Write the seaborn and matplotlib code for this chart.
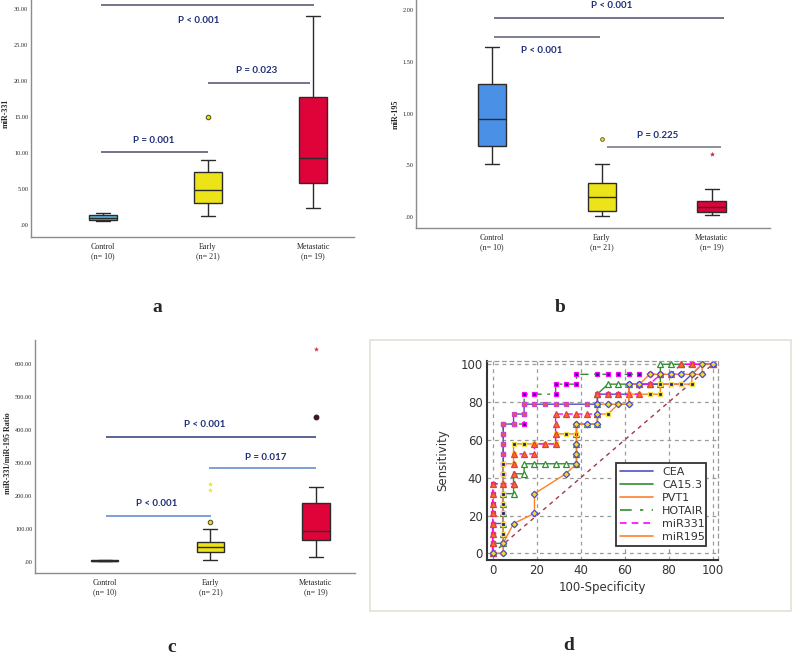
import numpy as np
import pandas as pd
import matplotlib
matplotlib.use("Agg")
import matplotlib.pyplot as plt
from matplotlib.ticker import FuncFormatter, MultipleLocator
from matplotlib.lines import Line2D
from matplotlib.patches import Rectangle
import seaborn as sns

# --- 1. Data ---

W, H = 793, 655

GROUPS = ["Control\n(n= 10)", "Early\n(n= 21)", "Metastatic\n(n= 19)"]

# five-number summaries per group: whisker low, Q1, median, Q3, whisker high
MIR331_CONTROL = [0.55, 0.65, 1.0, 1.45, 1.7]
MIR331_EARLY = [1.25, 3.1, 4.8, 7.3, 9.0]
MIR331_META = [2.4, 5.9, 9.25, 17.8, 29.0]
MIR331_EARLY_OUT = [15.0]

MIR195_CONTROL = [0.51, 0.69, 0.95, 1.285, 1.645]
MIR195_EARLY = [0.013, 0.061, 0.19, 0.331, 0.512]
MIR195_META = [0.02, 0.048, 0.097, 0.157, 0.273]
MIR195_EARLY_OUT = [0.75]
MIR195_META_STAR = [0.606]

RATIO_CONTROL = [2, 3, 4, 5, 6]
RATIO_EARLY = [7, 29, 45, 62, 100]
RATIO_META = [15, 68, 94, 178, 227]
RATIO_EARLY_OUT = [120]
RATIO_EARLY_STAR = [219, 238]
RATIO_META_OUT = [439]
RATIO_META_STAR = [646]

# ROC curves (100-specificity, sensitivity)
CEA_X = [0, 0, 0, 0, 4.8, 4.8, 4.8, 4.8, 4.8, 4.8, 4.8, 4.8, 4.8, 4.8, 4.8, 9.5, 9.5, 14.3, 14.3, 19.0, 23.8,
         28.6, 33.3, 42.9, 47.6, 47.6, 52.4, 57.1, 61.9, 61.9, 66.7, 71.4, 76.2, 85.7, 90.5, 95.2, 100]
CEA_Y = [0, 5.3, 10.5, 15.8, 15.8, 21.1, 26.3, 31.6, 36.8, 42.1, 47.4, 52.6, 57.9, 63.2, 68.4, 68.4, 73.7, 73.7,
         78.9, 78.9, 78.9, 78.9, 78.9, 78.9, 78.9, 84.2, 84.2, 84.2, 84.2, 89.5, 89.5, 89.5, 89.5, 89.5, 94.7, 100, 100]

CA153_X = [0, 0, 4.8, 4.8, 4.8, 4.8, 4.8, 4.8, 9.5, 9.5, 9.5, 14.3, 14.3, 19.0, 23.8, 28.6, 33.3, 38.1, 38.1,
           38.1, 38.1, 38.1, 42.9, 47.6, 47.6, 47.6, 47.6, 52.4, 57.1, 61.9, 66.7, 71.4, 76.2, 76.2, 76.2, 80.9,
           85.7, 100]
CA153_Y = [0, 5.3, 5.3, 10.5, 15.8, 21.1, 26.3, 31.6, 31.6, 36.8, 42.1, 42.1, 47.4, 47.4, 47.4, 47.4, 47.4, 47.4,
           52.6, 57.9, 63.2, 68.4, 68.4, 68.4, 73.7, 78.9, 84.2, 89.5, 89.5, 89.5, 89.5, 89.5, 89.5, 94.7, 100,
           100, 100, 100]

PVT1_X = [0, 4.8, 4.8, 4.8, 4.8, 4.8, 4.8, 4.8, 4.8, 4.8, 4.8, 9.5, 9.5, 9.5, 14.3, 19.0, 23.8, 28.6, 28.6, 33.3,
          38.1, 38.1, 42.9, 47.6, 47.6, 52.4, 57.1, 61.9, 61.9, 66.7, 71.4, 76.2, 76.2, 80.9, 85.7, 90.5, 90.5,
          95.2, 100]
PVT1_Y = [0, 0, 5.3, 10.5, 15.8, 21.1, 26.3, 31.6, 36.8, 42.1, 47.4, 47.4, 52.6, 57.9, 57.9, 57.9, 57.9, 57.9,
          63.2, 63.2, 63.2, 68.4, 68.4, 68.4, 73.7, 73.7, 78.9, 78.9, 84.2, 84.2, 84.2, 84.2, 89.5, 89.5, 89.5,
          89.5, 94.7, 100, 100]

HOTAIR_X = [0, 0, 0, 0, 0, 0, 0, 0, 4.8, 4.8, 4.8, 4.8, 4.8, 4.8, 4.8, 9.5, 14.3, 14.3, 14.3, 14.3, 19.0, 28.6,
            28.6, 33.3, 38.1, 38.1, 47.6, 52.4, 57.1, 61.9, 66.7, 71.4, 76.2, 80.9, 85.7, 90.5, 100]
HOTAIR_Y = [0, 5.3, 10.5, 15.8, 21.1, 26.3, 31.6, 36.8, 36.8, 42.1, 47.4, 52.6, 57.9, 63.2, 68.4, 68.4, 68.4,
            73.7, 78.9, 84.2, 84.2, 84.2, 89.5, 89.5, 89.5, 94.7, 94.7, 94.7, 94.7, 94.7, 94.7, 94.7, 94.7, 94.7,
            94.7, 100, 100]

MIR331_X = [0, 0, 0, 0, 0, 0, 0, 0, 4.8, 9.5, 9.5, 9.5, 9.5, 14.3, 19.0, 19.0, 23.8, 28.6, 28.6, 28.6, 28.6,
            33.3, 38.1, 42.9, 47.6, 47.6, 52.4, 57.1, 61.9, 66.7, 66.7, 71.4, 76.2, 80.9, 85.7, 90.5, 100]
MIR331_Y = [0, 5.3, 10.5, 15.8, 21.1, 26.3, 31.6, 36.8, 36.8, 36.8, 42.1, 47.4, 52.6, 52.6, 52.6, 57.9, 57.9,
            57.9, 63.2, 68.4, 73.7, 73.7, 73.7, 73.7, 73.7, 84.2, 84.2, 84.2, 84.2, 84.2, 89.5, 89.5, 94.7, 94.7,
            100, 100, 100]

MIR195_X = [0, 4.8, 4.8, 9.5, 19.0, 19.0, 33.3, 38.1, 38.1, 38.1, 38.1, 42.9, 47.6, 47.6, 47.6, 52.4, 57.1, 61.9,
            61.9, 66.7, 71.4, 76.2, 80.9, 85.7, 90.5, 95.2, 95.2, 100]
MIR195_Y = [0, 0, 5.3, 15.8, 21.1, 31.6, 42.1, 47.4, 52.6, 57.9, 68.4, 68.4, 68.4, 73.7, 78.9, 78.9, 78.9, 78.9,
            89.5, 89.5, 94.7, 94.7, 94.7, 94.7, 94.7, 94.7, 100, 100]


# --- 2. Helpers ---

def rect(x0, y0, x1, y1):
    # pixel box (top-left origin) -> figure fraction
    return [x0 / W, 1 - y1 / H, (x1 - x0) / W, (y1 - y0) / H]


def spss_fmt(v, pos):
    s = f"{v:.2f}"
    return s[1:] if s.startswith("0") else s


def draw_boxes(ax, summaries, colors, width):
    df = pd.DataFrame({
        "group": [g for g in GROUPS for _ in range(5)],
        "value": [v for s in summaries for v in s],
    })
    sns.boxplot(data=df, x="group", y="value", hue="group", order=GROUPS, hue_order=GROUPS,
                palette=colors, saturation=1, whis=(0, 100), width=width, linewidth=1,
                linecolor="#2b2b2b", legend=False, ax=ax)


def draw_points(ax, group, values, marker, face, edge, size, lw=0.8):
    sns.stripplot(x=[group] * len(values), y=values, order=GROUPS, jitter=False, marker=marker,
                  color=face, edgecolor=edge, linewidth=lw, size=size, ax=ax)


def bracket(ax, x0, x1, y, color, label, tx, ty):
    ax.plot([x0, x1], [y, y], color=color, lw=1.1, solid_capstyle="butt")
    ax.text(tx, ty, label, ha="center", va="center", fontsize=7, fontweight="bold",
            color="#1f2f78", family="Lato")


def style_box_axes(ax, ylim, xlim, major, ylabel, lab_x, lab_y):
    ax.set_ylim(*ylim)
    ax.set_xlim(*xlim)
    ax.yaxis.set_major_locator(MultipleLocator(major))
    ax.yaxis.set_major_formatter(FuncFormatter(spss_fmt))
    for side in ["top", "right"]:
        ax.spines[side].set_visible(False)
    for side in ["left", "bottom"]:
        ax.spines[side].set_color("#8c8c8c")
        ax.spines[side].set_linewidth(1)
    ax.tick_params(axis="y", length=0, labelsize=4.5, pad=2)
    ax.tick_params(axis="x", length=0, labelsize=5.8, pad=4)
    for lab in ax.get_xticklabels() + ax.get_yticklabels():
        lab.set_fontfamily("Liberation Serif")
    ax.set_xlabel("")
    ax.set_ylabel(ylabel, fontsize=5.8, fontweight="bold", family="Liberation Serif")
    ax.yaxis.set_label_coords(lab_x, lab_y)
    ax.patch.set_alpha(0)


# --- 3. Figure ---

sns.set_style("white")
plt.rcParams["font.family"] = ["DejaVu Sans"]

fig = plt.figure(figsize=(W / 100, H / 100), dpi=100)
fig.patch.set_facecolor("white")

# panel a
ax_a = fig.add_axes(rect(31, 0, 354, 237))
draw_boxes(ax_a, [MIR331_CONTROL, MIR331_EARLY, MIR331_META], ["#56b7ea", "#ece418", "#e0033a"], 0.27)
draw_points(ax_a, GROUPS[1], MIR331_EARLY_OUT, "o", "#e8e020", "#5a5a20", 3.2)
bracket(ax_a, -0.02, 2.01, 30.5, "#4d506c", "P < 0.001", 0.91, 28.4)
bracket(ax_a, 1.0, 1.97, 19.7, "#4d506c", "P = 0.023", 1.46, 21.4)
bracket(ax_a, -0.02, 1.0, 10.1, "#4d506c", "P = 0.001", 0.48, 11.8)
style_box_axes(ax_a, (-1.67, 31.25), (-0.686, 2.39), 5, "miR-331", -0.066, 0.52)

# panel b
ax_b = fig.add_axes(rect(416, 0, 770, 228))
draw_boxes(ax_b, [MIR195_CONTROL, MIR195_EARLY, MIR195_META], ["#4a90e6", "#ece418", "#e0033a"], 0.26)
draw_points(ax_b, GROUPS[1], MIR195_EARLY_OUT, "o", "#f2ee80", "#7a6a10", 2.6)
draw_points(ax_b, GROUPS[2], MIR195_META_STAR, "*", "#d02040", "#d02040", 3.0, 0.3)
bracket(ax_b, 0.02, 2.11, 1.926, "#4d506c", "P < 0.001", 1.09, 2.04)
bracket(ax_b, 0.02, 0.98, 1.742, "#5a5c72", "P < 0.001", 0.45, 1.607)
bracket(ax_b, 1.05, 2.08, 0.673, "#6d7082", "P = 0.225", 1.51, 0.783)
style_box_axes(ax_b, (-0.106, 2.097), (-0.69, 2.53), 0.5, "miR-195", -0.046, 0.50)

# panel c
ax_c = fig.add_axes(rect(35, 340, 355, 573))
draw_boxes(ax_c, [RATIO_CONTROL, RATIO_EARLY, RATIO_META], ["#56b7ea", "#ece418", "#e0033a"], 0.26)
draw_points(ax_c, GROUPS[1], RATIO_EARLY_OUT, "o", "#e8e020", "#5a5a20", 3.2)
draw_points(ax_c, GROUPS[1], RATIO_EARLY_STAR, "*", "#f0e040", "#f0e040", 3.0, 0.3)
draw_points(ax_c, GROUPS[2], RATIO_META_OUT, "o", "#5a0a10", "#222222", 3.4)
draw_points(ax_c, GROUPS[2], RATIO_META_STAR, "*", "#e03050", "#e03050", 3.0, 0.3)
bracket(ax_c, 0.01, 2.0, 379, "#2c3c78", "P < 0.001", 0.95, 418)
bracket(ax_c, 0.99, 2.0, 285, "#5b86c8", "P = 0.017", 1.52, 317)
bracket(ax_c, 0.01, 1.01, 141, "#5b86c8", "P < 0.001", 0.49, 177.6)
style_box_axes(ax_c, (-33.3, 673.6), (-0.66, 2.37), 100, "miR-331/miR-195 Ratio", -0.072, 0.516)

# panel d frame
fig.add_artist(Rectangle((370 / W, 1 - 611 / H), 421 / W, 271 / H, transform=fig.transFigure,
                         fill=False, edgecolor="#e2e2d6", lw=1.2))

ax_d = fig.add_axes(rect(486.7, 360.7, 718, 560))
sns.lineplot(x=[0, 100], y=[0, 100], color="#a03848", lw=1, linestyle=(0, (3, 3)), ax=ax_d)

roc = [
    (HOTAIR_X, HOTAIR_Y, "#2f8f2f", (0, (6, 4, 2, 4)), "s", "#1c1c8c", "#ff00ff", 3.3),
    (CA153_X, CA153_Y, "#2f8f2f", "-", "^", "white", "#2f8f2f", 3.8),
    (CEA_X, CEA_Y, "#5050c8", "-", "s", "#e06030", "#cc44cc", 3.2),
    (PVT1_X, PVT1_Y, "#ff7f2a", "-", "s", "#1c1c8c", "#f0e040", 2.4),
    (MIR331_X, MIR331_Y, "#ff00ff", (0, (4, 3)), "^", "#ff6a20", "#e04040", 3.8),
    (MIR195_X, MIR195_Y, "#ff7f2a", "-", "D", "#f5e020", "#4a4ae0", 3.3),
]
for xs, ys, col, ls, mk, mfc, mec, ms in roc:
    sns.lineplot(x=xs, y=ys, sort=False, estimator=None, color=col, lw=1.0, linestyle=ls,
                 marker=mk, markersize=ms, markerfacecolor=mfc, markeredgecolor=mec,
                 markeredgewidth=0.9, ax=ax_d)

ax_d.set_xlim(-2.7, 102.4)
ax_d.set_ylim(-3.5, 101.9)
ax_d.xaxis.set_major_locator(MultipleLocator(20))
ax_d.yaxis.set_major_locator(MultipleLocator(20))
ax_d.xaxis.set_minor_locator(MultipleLocator(5))
ax_d.yaxis.set_minor_locator(MultipleLocator(5))
ax_d.grid(True, which="major", color="#9a9a9a", lw=0.9, linestyle=(0, (3, 3)))
ax_d.set_axisbelow(True)
for side in ["left", "bottom"]:
    ax_d.spines[side].set_color("#333333")
    ax_d.spines[side].set_linewidth(1.5)
for side in ["top", "right"]:
    ax_d.spines[side].set_color("#9a9a9a")
    ax_d.spines[side].set_linewidth(0.9)
    ax_d.spines[side].set_linestyle((0, (3, 3)))
ax_d.tick_params(which="both", direction="in", top=False, right=False, color="#333333")
ax_d.tick_params(which="major", length=4, labelsize=8.5, labelcolor="#333333", pad=3)
ax_d.tick_params(which="minor", length=2.5)
ax_d.set_xlabel("100-Specificity", fontsize=8.5, color="#333333", labelpad=3)
ax_d.set_ylabel("Sensitivity", fontsize=8.5, color="#333333", labelpad=8)

handles = [
    Line2D([], [], color="#5050c8", lw=1.2, label="CEA"),
    Line2D([], [], color="#2f8f2f", lw=1.2, label="CA15.3"),
    Line2D([], [], color="#ff7f2a", lw=1.2, label="PVT1"),
    Line2D([], [], color="#2f8f2f", lw=1.2, linestyle=(0, (7, 5, 2, 5)), label="HOTAIR"),
    Line2D([], [], color="#ff00ff", lw=1.2, linestyle=(0, (4, 3)), label="miR331"),
    Line2D([], [], color="#ff7f2a", lw=1.2, label="miR195"),
]
leg = ax_d.legend(handles=handles, loc="lower left", bbox_to_anchor=(0.536, 0.042, 0.437, 0.456),
                  mode="expand", fancybox=False, framealpha=1, edgecolor="#333333", fontsize=8,
                  handlelength=3.0, labelspacing=0.28, borderpad=0.35, handletextpad=0.8)
leg.get_frame().set_linewidth(1.3)
for t in leg.get_texts():
    t.set_color("#333333")

# panel letters
for letter, px, py in [("a", 157, 308), ("b", 560, 307), ("c", 172, 648), ("d", 569, 645)]:
    fig.text(px / W, 1 - py / H, letter, ha="center", va="center", fontsize=14,
             fontweight="bold", family="Liberation Serif")

fig.savefig("out.png", dpi=100)
